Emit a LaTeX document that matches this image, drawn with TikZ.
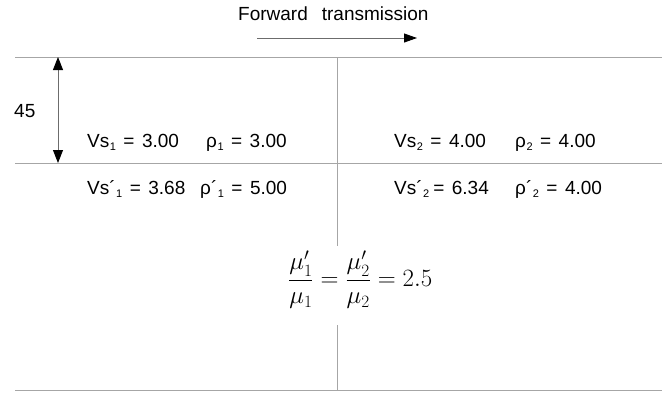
\documentclass[tikz,border=0pt]{standalone}
\usepackage[no-math]{fontspec}
\setmainfont{Liberation Sans}
\usetikzlibrary{arrows.meta}
\newcommand\lowsub[1]{\kern0.5pt\raisebox{-3.5pt}{\fontsize{11}{11}\selectfont #1}}
\newcommand\gap{\hspace{7.5pt}}
\tikzset{
  rule/.style={draw=gray!70, line width=0.9pt},
  conn/.style={draw=gray!85!black, line width=0.9pt},
  lbl/.style={font=\fontsize{19}{22}\selectfont, anchor=base west, inner sep=0pt},
}
\begin{document}
\begin{tikzpicture}[x=1pt,y=-1pt]
\useasboundingbox (0,0) rectangle (662,392);
% title
\node[lbl] (title) at (238,20) {Forward\hspace{14pt}transmission};
\coordinate (fa) at (257,38);
\coordinate (fb) at (417,38);
\draw[conn, -{Triangle[length=13pt,width=9pt,black]}] (fa) -- (fb);
% horizontal rules
\coordinate (tl) at (15,57);  \coordinate (tr) at (662,57);
\coordinate (ml) at (15,163); \coordinate (mr) at (662,163);
\coordinate (bl) at (15,390); \coordinate (br) at (662,390);
\draw[rule] (tl) -- (tr);
\draw[rule] (ml) -- (mr);
\draw[rule] (bl) -- (br);
% vertical rule
\coordinate (vt) at (337,57);
\coordinate (vg1) at (337,246);
\coordinate (vg2) at (337,325);
\coordinate (vb) at (337,390);
\draw[rule] (vt) -- (vg1);
\draw[rule] (vg2) -- (vb);
% dimension
\coordinate (dt) at (58,57);
\coordinate (db) at (58,163);
\draw[conn, {Triangle[length=13pt,width=10pt,black]}-{Triangle[length=13pt,width=10pt,black]}] (dt) -- (db);
\node[lbl] (dim) at (14,117) {45};
% layer values
\node[lbl] (l1a) at (87,147) {Vs\lowsub{1}\gap=\gap3.00};
\node[lbl] (l1b) at (206,147) {ρ\lowsub{1}\gap=\gap3.00};
\node[lbl] (r1a) at (394,147) {Vs\lowsub{2}\gap=\gap4.00};
\node[lbl] (r1b) at (515,147) {ρ\lowsub{2}\gap=\gap4.00};
\node[lbl] (l2a) at (87,194) {Vs´\lowsub{1}\gap=\gap3.68};
\node[lbl] (l2b) at (200,194) {ρ´\lowsub{1}\gap=\gap5.00};
\node[lbl] (r2a) at (394,194) {Vs´\lowsub{2}\hspace{4pt}=\gap6.34};
\node[lbl] (r2b) at (515,194) {ρ´\lowsub{2}\gap=\gap4.00};
% formula
\node[inner sep=0pt, anchor=west, font=\fontsize{27}{31}\selectfont] (eq) at (288,280)
  {$\displaystyle \frac{\mu'_1}{\mu_1} = \frac{\mu'_2}{\mu_2} = 2.5$};
\end{tikzpicture}
\end{document}
